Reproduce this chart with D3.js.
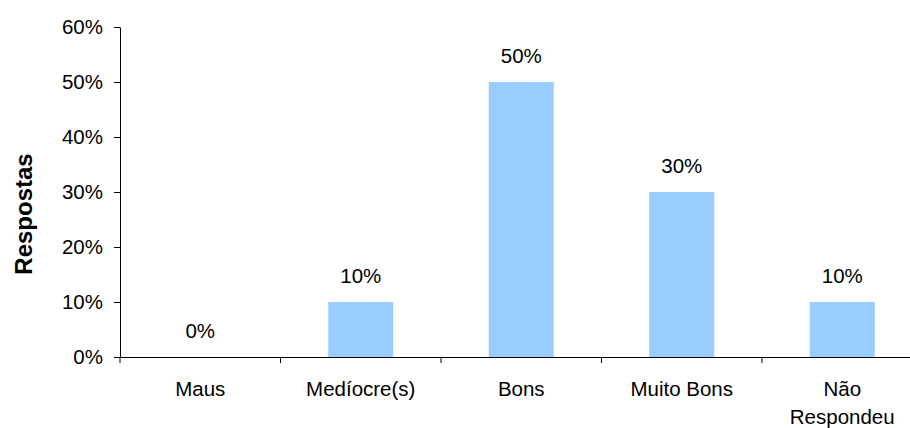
<!DOCTYPE html>
<html><head><meta charset="utf-8">
<script src="https://cdn.jsdelivr.net/npm/d3@7"></script>
<style>body{margin:0;background:#fff}svg{display:block}text{font-family:"Liberation Sans",Arial,sans-serif;fill:#000}</style>
</head><body><svg id="c" width="910" height="428"></svg>
<script>
const categories = [["Maus"],["Medíocre(s)"],["Bons"],["Muito Bons"],["Não","Respondeu"]];
const values = [0, 0.10, 0.50, 0.30, 0.10];
const yTicks = [0, 0.1, 0.2, 0.3, 0.4, 0.5, 0.6];
const yTitle = "Respostas";

(function(){
const svg = d3.select("#c");
const FS = 20.5;
const mLeft = 120, mRight = 922.5, mTop = 27, mBottom = 357;
const x = d3.scaleBand().domain(d3.range(categories.length)).range([mLeft, mRight]).paddingInner(0).paddingOuter(0);
const y = d3.scaleLinear().domain([0, 0.6]).range([mBottom, mTop]);
const fmt = d3.format(".0%");

svg.selectAll("rect.bar").data(values).join("rect")
  .attr("class","bar")
  .attr("x", (d,i) => x(i) + x.bandwidth()/2 - 32.5)
  .attr("width", 65)
  .attr("y", d => y(d))
  .attr("height", d => y(0) - y(d))
  .attr("fill", "#99CCFF");

svg.selectAll("text.val").data(values).join("text")
  .attr("class","val")
  .attr("x", (d,i) => x(i) + x.bandwidth()/2)
  .attr("y", d => y(d) - 19)
  .attr("text-anchor", "middle")
  .attr("font-size", FS)
  .text(d => fmt(d));

const ya = svg.append("g").attr("transform", `translate(${mLeft},0)`)
  .call(d3.axisLeft(y).tickValues(yTicks).tickFormat(fmt).tickSize(6).tickPadding(11).tickSizeOuter(0));
ya.attr("font-size", FS).attr("font-family", '"Liberation Sans",Arial,sans-serif');
ya.select(".domain").attr("stroke", "#000");
ya.selectAll(".tick line").attr("stroke", "#000");
ya.selectAll(".tick text").attr("fill","#000");

const xa = svg.append("g").attr("transform", `translate(0,${mBottom})`)
  .call(d3.axisBottom(x).tickSize(0).tickFormat(""));
xa.select(".domain").attr("stroke", "#000");
svg.append("g").selectAll("line").data(d3.range(categories.length)).join("line")
  .attr("x1", i => x(i)).attr("x2", i => x(i))
  .attr("y1", mBottom).attr("y2", mBottom + 6).attr("stroke", "#000");

const cl = svg.selectAll("text.cat").data(categories).join("text")
  .attr("class","cat")
  .attr("text-anchor", "middle").attr("font-size", FS);
cl.each(function(lines, i) {
  const t = d3.select(this);
  lines.forEach((l, j) => {
    t.append("tspan").attr("x", x(i) + x.bandwidth()/2).attr("y", 396 + j*28).text(l);
  });
});

svg.append("text")
  .attr("transform", "translate(32,214) rotate(-90)")
  .attr("text-anchor", "middle")
  .attr("font-size", 24).attr("font-weight", "bold")
  .text(yTitle);
})();
</script></body></html>
